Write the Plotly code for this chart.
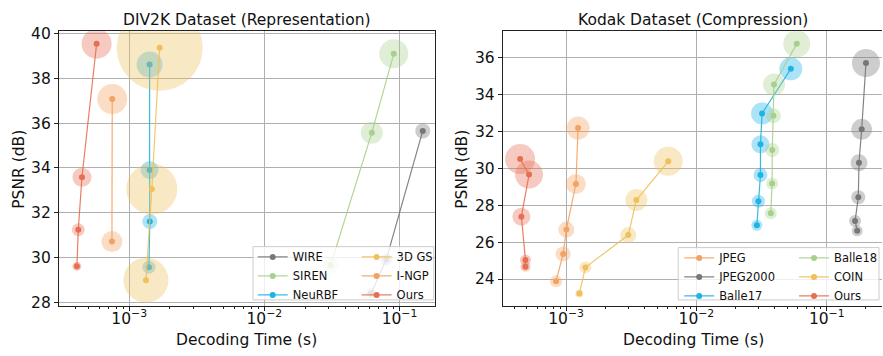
import plotly.graph_objects as go

# ---------------- DIV2K (Representation) ----------------
div2k_series = ["WIRE", "SIREN", "NeuRBF", "3D GS", "I-NGP", "Ours"]
wire_time = [0.0617, 0.0798, 0.1486]
wire_psnr = [28.40, 29.91, 35.65]
wire_size = [10, 12, 15]
siren_time = [0.0309, 0.0624, 0.0907]
siren_psnr = [29.65, 35.57, 39.09]
siren_size = [16, 22, 29]
neurbf_time = [1.40e-3, 1.42e-3, 1.415e-3, 1.415e-3]
neurbf_psnr = [29.57, 31.61, 33.90, 38.61]
neurbf_size = [13, 15, 18, 26]
gs_time = [1.33e-3, 1.47e-3, 1.68e-3]
gs_psnr = [28.99, 33.06, 39.36]
gs_size = [45, 51, 86]
ingp_time = [7.45e-4, 7.49e-4]
ingp_psnr = [30.71, 37.07]
ingp_size = [21, 30]
ours1_time = [4.10e-4, 4.20e-4, 4.47e-4, 5.74e-4]
ours1_psnr = [29.61, 31.24, 33.58, 39.54]
ours1_size = [9, 13, 19, 30]

# ---------------- Kodak (Compression) ----------------
kodak_series = ["JPEG", "JPEG2000", "Balle17", "Balle18", "COIN", "Ours"]
jpeg_time = [8.38e-4, 9.50e-4, 1.005e-3, 1.19e-3, 1.236e-3]
jpeg_psnr = [23.88, 25.36, 26.68, 29.15, 32.18]
jpeg_size = [12, 15, 16, 20, 23]
j2k_time = [0.1714, 0.165, 0.1746, 0.1768, 0.1854, 0.200]
j2k_psnr = [26.61, 27.14, 28.43, 30.30, 32.11, 35.70]
j2k_size = [11, 12, 14, 17, 21, 28]
b17_time = [0.0291, 0.0299, 0.0310, 0.0310, 0.0319, 0.0530]
b17_psnr = [26.91, 28.22, 29.64, 31.30, 32.97, 35.39]
b17_size = [11, 13, 14, 18, 22, 23]
b18_time = [0.0372, 0.0381, 0.0382, 0.0390, 0.0394, 0.0589]
b18_psnr = [27.57, 29.18, 30.99, 32.85, 34.54, 36.75]
b18_size = [12, 12, 14, 15, 22, 27]
coin_time = [1.264e-3, 1.406e-3, 3.00e-3, 3.46e-3, 6.08e-3]
coin_psnr = [23.21, 24.63, 26.38, 28.28, 30.38]
coin_size = [8, 12, 16, 22, 29]
ours2_time = [4.88e-4, 4.88e-4, 4.54e-4, 5.20e-4, 4.44e-4]
ours2_psnr = [24.66, 25.03, 27.38, 29.66, 30.50]
ours2_size = [10, 11, 18, 28, 30]

GRAY = "#777777"
GREEN = "#a8d08d"
BLUE = "#1fb3e6"
YELLOW = "#efc05c"
ORANGE = "#f4a261"
RED = "#e76f51"

W, H = 883, 356
FONT = "DejaVu Sans"


def rgba(h, a):
    h = h.lstrip("#")
    r, g, b = int(h[0:2], 16), int(h[2:4], 16), int(h[4:6], 16)
    return f"rgba({r},{g},{b},{a})"


fig = go.Figure()


def add_series(name, t, p, s, color, xa, ya, legend):
    fig.add_trace(go.Scatter(
        x=t, y=p, mode="markers", xaxis=xa, yaxis=ya, showlegend=False,
        hoverinfo="skip",
        marker=dict(size=s, color=rgba(color, 0.52), line=dict(width=0)),
    ))
    fig.add_trace(go.Scatter(
        x=t, y=p, mode="lines+markers", name=name, xaxis=xa, yaxis=ya,
        legend=legend,
        line=dict(color=rgba(color, 0.9), width=1.2),
        marker=dict(size=6, color=color),
    ))


add_series("WIRE", wire_time, wire_psnr, wire_size, GRAY, "x", "y", "legend")
add_series("SIREN", siren_time, siren_psnr, siren_size, GREEN, "x", "y", "legend")
add_series("NeuRBF", neurbf_time, neurbf_psnr, neurbf_size, BLUE, "x", "y", "legend")
add_series("3D GS", gs_time, gs_psnr, gs_size, YELLOW, "x", "y", "legend2")
add_series("I-NGP", ingp_time, ingp_psnr, ingp_size, ORANGE, "x", "y", "legend2")
add_series("Ours", ours1_time, ours1_psnr, ours1_size, RED, "x", "y", "legend2")

add_series("JPEG", jpeg_time, jpeg_psnr, jpeg_size, ORANGE, "x2", "y2", "legend3")
add_series("JPEG2000", j2k_time, j2k_psnr, j2k_size, GRAY, "x2", "y2", "legend3")
add_series("Balle17", b17_time, b17_psnr, b17_size, BLUE, "x2", "y2", "legend3")
add_series("Balle18", b18_time, b18_psnr, b18_size, GREEN, "x2", "y2", "legend4")
add_series("COIN", coin_time, coin_psnr, coin_size, YELLOW, "x2", "y2", "legend4")
add_series("Ours", ours2_time, ours2_psnr, ours2_size, RED, "x2", "y2", "legend4")

major = [1e-3, 1e-2, 1e-1]
major_txt = ["10<sup>\u22123</sup>", "10<sup>\u22122</sup>", "10<sup>\u22121</sup>"]
minor_vals = [k * 10.0 ** e for e in (-4, -3, -2, -1) for k in range(2, 10)]

AX = dict(
    showline=True, linecolor="#222222", linewidth=1, mirror=True,
    ticks="outside", ticklen=4, tickcolor="#222222",
    showgrid=True, gridcolor="#b0b0b0", gridwidth=1, zeroline=False,
    tickfont=dict(family=FONT, size=15.5, color="#111111"),
)

fy0, fy1 = (H - 309.7) / H, (H - 26) / H
fig.update_layout(
    width=W, height=H, margin=dict(l=0, r=0, t=0, b=0),
    plot_bgcolor="white", paper_bgcolor="white",
    font=dict(family=FONT, color="#111111"),
    xaxis=dict(AX, type="log", domain=[59 / W, 435 / W], range=[-3.52, -0.741],
               tickvals=major, ticktext=major_txt, ticklabelstandoff=-6,
               minor=dict(tickvals=minor_vals, ticks="outside", ticklen=2,
                          tickcolor="#222222", showgrid=False),
               anchor="y"),
    yaxis=dict(AX, domain=[fy0, fy1], range=[27.83, 40.1], dtick=2, tick0=0,
               anchor="x"),
    xaxis2=dict(AX, type="log", domain=[503.3 / W, 1.0], range=[-3.486, -0.576],
                tickvals=major, ticktext=major_txt, ticklabelstandoff=-6,
                minor=dict(tickvals=minor_vals, ticks="outside", ticklen=2,
                           tickcolor="#222222", showgrid=False),
                anchor="y2"),
    yaxis2=dict(AX, domain=[fy0, fy1], range=[22.53, 37.43], dtick=2, tick0=0,
                anchor="x2", mirror=False),
)

LEG = dict(bgcolor="rgba(0,0,0,0)", borderwidth=0, orientation="v",
           font=dict(family=FONT, size=11.5, color="#111111"),
           itemwidth=30, xanchor="left", yanchor="top", tracegroupgap=0)
fig.update_layout(
    legend=dict(LEG, x=253 / W, y=1 - 244 / H),
    legend2=dict(LEG, x=357 / W, y=1 - 244 / H),
    legend3=dict(LEG, x=680 / W, y=1 - 245 / H),
    legend4=dict(LEG, x=795 / W, y=1 - 245 / H),
)

# legend frames (semi-transparent, like matplotlib)
for x0, x1, y0, y1 in [(253.3, 434.3, 248.3, 303.3), (679, 880, 249.3, 303.3)]:
    fig.add_shape(type="rect", xref="paper", yref="paper",
                  x0=x0 / W, x1=x1 / W, y0=1 - y1 / H, y1=1 - y0 / H,
                  fillcolor="rgba(255,255,255,0.8)",
                  line=dict(color="#cccccc", width=1), layer="above")

ann_font = dict(family=FONT, size=15.5, color="#111111")
annotations = [
    dict(text="DIV2K Dataset (Representation)", x=247 / W, y=1 - 14 / H),
    dict(text="Kodak Dataset (Compression)", x=694 / W, y=1 - 14 / H),
    dict(text="Decoding Time (s)", x=247 / W, y=1 - 345 / H),
    dict(text="Decoding Time (s)", x=694 / W, y=1 - 345 / H),
    dict(text="PSNR (dB)", x=19 / W, y=1 - 168 / H, textangle=-90),
    dict(text="PSNR (dB)", x=462.5 / W, y=1 - 168 / H, textangle=-90),
]
for a in annotations:
    fig.add_annotation(dict(a, xref="paper", yref="paper", showarrow=False,
                            xanchor="center", yanchor="middle", font=ann_font))

fig.write_html("out.html")
